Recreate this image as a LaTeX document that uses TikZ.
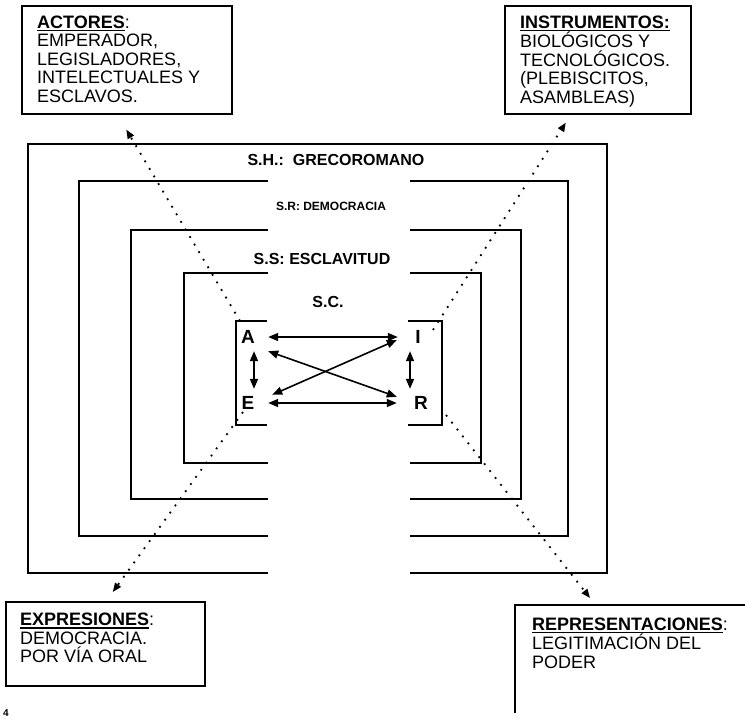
\documentclass[tikz,border=0pt]{standalone}
\usepackage{fontspec}
\setmainfont{Liberation Sans}
\usetikzlibrary{arrows.meta}
\newsavebox\ulbox
\newcommand\myul[1]{\sbox\ulbox{#1}\rlap{\rule[-3pt]{\wd\ulbox}{1.6pt}}\usebox\ulbox}
\begin{document}
\begin{tikzpicture}[x=1pt,y=-1pt,
  frame/.style={line width=2.5pt,line join=miter},
  bracket/.style={line width=2.2pt,line join=miter},
  boxline/.style={line width=1.6pt},
  box/.style={draw,line width=1.6pt,inner sep=0pt,anchor=north west},
  txt/.style={inner sep=0pt,align=left,anchor=north west,font=\fontsize{18}{18.5}\selectfont},
  lab/.style={inner sep=0pt,font=\bfseries\fontsize{16}{16}\selectfont},
  letter/.style={inner sep=0pt,minimum width=40pt,minimum height=28pt,font=\bfseries\fontsize{19}{19}\selectfont},
  arr/.style={line width=1.6pt,{Triangle[length=10pt,width=8pt]}-{Triangle[length=10pt,width=8pt]}},
  dotarrow/.style={line width=1.8pt,dash pattern=on 1.8pt off 7pt,-{Triangle[length=9pt,width=7pt]}}
]
\useasboundingbox (0,0) rectangle (745,721);

% nested frames
\draw[frame] (268,573) -- (28,573) -- (28,144) -- (607,144) -- (607,573) -- (410,573);
\draw[frame] (268,181) -- (79,181) -- (79,536) -- (268,536);
\draw[frame] (410,181) -- (568,181) -- (568,536) -- (410,536);
\draw[frame] (268,230) -- (131,230) -- (131,499) -- (268,499);
\draw[frame] (410,230) -- (521,230) -- (521,499) -- (410,499);
\draw[frame] (268,273) -- (184,273) -- (184,463) -- (268,463);
\draw[frame] (410,273) -- (481,273) -- (481,463) -- (410,463);
% inner brackets
\draw[bracket] (267,321) -- (236,321) -- (236,425) -- (267,425);
\draw[bracket] (408,321) -- (442,321) -- (442,425) -- (408,425);

% labels
\node[lab] (sh) at (336,160) {S.H.:\ \ GRECOROMANO};
\node[lab,font=\bfseries\fontsize{12}{12}\selectfont] (sr) at (331,206) {S.R: DEMOCRACIA};
\node[lab] (ss) at (322,259) {S.S: ESCLAVITUD};
\node[lab] (sc) at (328,302) {S.C.};

% letters
\node[letter] (A) at (248,337) {A};
\node[letter] (E) at (248,403) {E};
\node[letter] (I) at (418,337) {I};
\node[letter] (R) at (421,403) {R};

\draw[arr] (A.east) -- (I.west);
\draw[arr] (E.east) -- ([xshift=-4pt]R.west);
\draw[arr] (A.south east) -- ([xshift=-4pt,yshift=-8pt]R.north west);
\draw[arr] ([xshift=4pt,yshift=-6pt]E.north east) -- ([xshift=-1pt,yshift=-3pt]I.west);
\draw[arr] ([xshift=6pt]A.south) -- ([xshift=6pt]E.north);
\draw[arr] ([xshift=-8pt]I.south) -- ([xshift=-11pt]R.north);

% boxes
\node[box,minimum width=210pt,minimum height=108pt] (actbox) at (21,5) {};
\node[txt] (acttxt) at (37,15.6) {\textbf{\myul{ACTORES}}:\\EMPERADOR,\\LEGISLADORES,\\INTELECTUALES Y\\ESCLAVOS.};

\node[box,minimum width=186pt,minimum height=108pt] (insbox) at (504,5) {};
\node[txt] (instxt) at (520,15.6) {\textbf{\myul{INSTRUMENTOS:}}\\BIOLÓGICOS Y\\TECNOLÓGICOS.\\(PLEBISCITOS,\\ASAMBLEAS)};

\node[box,minimum width=199pt,minimum height=84pt] (expbox) at (5,601) {};
\node[txt] (exptxt) at (20,613) {\textbf{\myul{EXPRESIONES}}:\\DEMOCRACIA.\\POR VÍA ORAL};

\node[inner sep=0pt,minimum width=230pt,minimum height=108pt,anchor=north west] (repbox) at (515,605) {};
\draw[boxline] (repbox.north east) -- (repbox.north west) -- (repbox.south west);
\node[txt] (reptxt) at (532,617.6) {\textbf{\myul{REPRESENTACIONES}}:\\LEGITIMACIÓN DEL\\PODER};

% dotted connectors
\draw[dotarrow] ([xshift=-8pt,yshift=16pt]A.center) -- ([xshift=-0.5pt,yshift=-15pt]actbox.south);
\draw[dotarrow] ([xshift=15pt,yshift=7pt]I.center) -- ([xshift=-32pt,yshift=-8pt]insbox.south);
\draw[dotarrow] ([xshift=-5pt,yshift=-9pt]E.center) -- ([xshift=7.5pt,yshift=9pt]expbox.north);
\draw[dotarrow] ([xshift=25pt,yshift=-12pt]R.center) -- ([xshift=75pt,yshift=7pt]repbox.north west);

\node[inner sep=0pt,font=\bfseries\fontsize{10}{10}\selectfont] (pagenum) at (6,713) {4};
\end{tikzpicture}
\end{document}
